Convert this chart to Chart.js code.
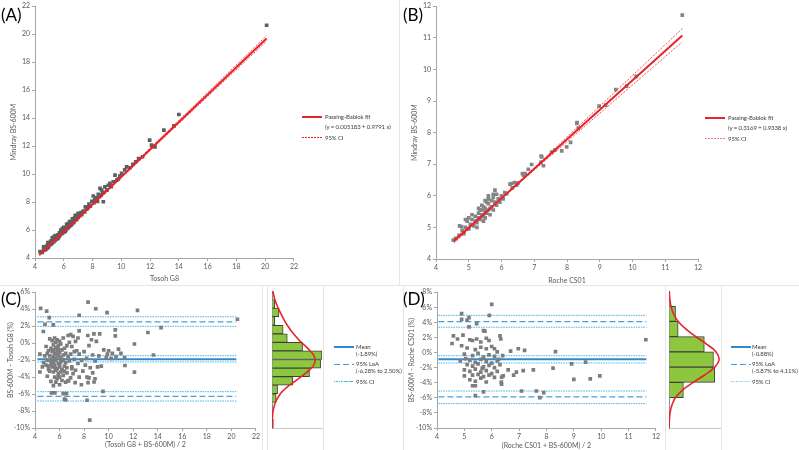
<!DOCTYPE html>
<html>
<head>
<meta charset="utf-8">
<script src="https://cdn.jsdelivr.net/npm/chart.js@4"></script>
<style>
  body { margin: 0; background: #fff; width: 799px; height: 450px; position: relative; overflow: hidden; font-family: Lato, sans-serif; }
  canvas, .t, .ln, .fr, .lbl { position: absolute; }
  .t { font-size: 6px; letter-spacing: -0.1px; color: #404040; white-space: nowrap; line-height: 8px; }
  .lbl { font-size: 17px; color: #000; line-height: 17px; }
  .fr { background: #e6e6e6; }
  .ln { width: 20px; }
  .red-solid { height: 2px; background: #e8232a; }
  .red-dash { height: 1px; background: repeating-linear-gradient(90deg, #e8232a 0 2px, transparent 2px 3px); }
  .blue-solid { height: 2px; background: #2f8ad0; }
  .blue-dash { height: 1.3px; background: repeating-linear-gradient(90deg, #4a9fd8 0 6px, transparent 6px 9px); }
  .blue-dot { height: 1px; background: repeating-linear-gradient(90deg, #48b2e0 0 1.5px, transparent 1.5px 2.5px); }
</style>
</head>
<body>

<div class="fr" style="left:0;top:285px;width:799px;height:1px"></div>
<div class="fr" style="left:399px;top:0;width:1px;height:285px"></div>
<div class="fr" style="left:262px;top:286px;width:1px;height:164px"></div>
<div class="fr" style="left:267px;top:286px;width:1px;height:164px"></div>
<div class="fr" style="left:323px;top:286px;width:1px;height:164px"></div>
<div class="fr" style="left:403px;top:286px;width:1px;height:164px"></div>
<div class="fr" style="left:665px;top:286px;width:1px;height:164px"></div>
<div class="fr" style="left:721px;top:286px;width:1px;height:164px"></div>

<canvas id="chartA" width="300" height="285" style="left:0;top:0"></canvas>
<canvas id="chartB" width="305" height="285" style="left:400px;top:0"></canvas>
<canvas id="chartC" width="262" height="164" style="left:0;top:286px"></canvas>
<canvas id="histC" width="66" height="164" style="left:262px;top:286px"></canvas>
<canvas id="chartD" width="262" height="164" style="left:400px;top:286px"></canvas>
<canvas id="histD" width="68" height="164" style="left:659px;top:286px"></canvas>

<div class="lbl" style="left:1px;top:6px">(A)</div>
<div class="lbl" style="left:403px;top:6px">(B)</div>
<div class="lbl" style="left:1px;top:290px">(C)</div>
<div class="lbl" style="left:403px;top:290px">(D)</div>

<!-- legend A -->
<div class="ln red-solid" style="left:302px;top:116px"></div>
<div class="t" style="left:325px;top:113px">Passing-Bablok fit</div>
<div class="t" style="left:325px;top:123px">(y = 0.005183 + 0.9791 x)</div>
<div class="ln red-dash" style="left:302px;top:137px"></div>
<div class="t" style="left:325px;top:134px">95% CI</div>

<!-- legend B -->
<div class="ln red-solid" style="left:705px;top:117px"></div>
<div class="t" style="left:728px;top:114px">Passing-Bablok fit</div>
<div class="t" style="left:728px;top:124px">(y = 0.3169 + 0.9338 x)</div>
<div class="ln red-dash" style="left:705px;top:138px;opacity:0.6"></div>
<div class="t" style="left:728px;top:135px">95% CI</div>

<!-- legend C -->
<div class="ln blue-solid" style="left:334px;top:346px"></div>
<div class="t" style="left:356px;top:343px">Mean</div>
<div class="t" style="left:356px;top:350px">(-1.89%)</div>
<div class="ln blue-dash" style="left:334px;top:364px"></div>
<div class="t" style="left:356px;top:360px">95% LoA</div>
<div class="t" style="left:356px;top:367px">(-6.28% to 2.50%)</div>
<div class="ln blue-dot" style="left:334px;top:381px"></div>
<div class="t" style="left:356px;top:378px">95% CI</div>

<!-- legend D -->
<div class="ln blue-solid" style="left:731px;top:346px"></div>
<div class="t" style="left:752px;top:343px">Mean</div>
<div class="t" style="left:752px;top:350px">(-0.88%)</div>
<div class="ln blue-dash" style="left:731px;top:364px"></div>
<div class="t" style="left:752px;top:360px">95% LoA</div>
<div class="t" style="left:752px;top:367px">(-5.87% to 4.11%)</div>
<div class="ln blue-dot" style="left:731px;top:381px;opacity:0.6"></div>
<div class="t" style="left:752px;top:378px">95% CI</div>

<script>
// ---- data ----
const aTicks = [4, 6, 8, 10, 12, 14, 16, 18, 20, 22];
const bTicks = [4, 5, 6, 7, 8, 9, 10, 11, 12];
const cYTicks = [-10, -8, -6, -4, -2, 0, 2, 4, 6];
const dYTicks = [-10, -8, -6, -4, -2, 0, 2, 4, 6, 8];

// Tosoh G8 vs Mindray BS-600M
const aPoints = [
  [4.35,4.45],[4.5,4.4],[4.6,4.55],[4.6,4.8],[4.7,4.75],[4.75,4.6],[4.8,4.85],[4.85,4.7],[4.9,4.95],[4.9,5.1],[4.95,4.8],
  [5.0,5.1],[5.05,4.95],[5.1,5.2],[5.15,5.0],[5.2,5.1],[5.2,5.45],[5.25,5.3],[5.3,5.15],[5.3,5.5],[5.35,5.4],[5.4,5.25],
  [5.4,5.6],[5.45,5.5],[5.5,5.35],[5.5,5.55],[5.55,5.45],[5.6,5.65],[5.6,5.4],[5.65,5.5],[5.7,5.6],[5.7,5.8],[5.75,5.65],
  [5.8,5.75],[5.8,6.0],[5.85,5.9],[5.9,5.75],[5.9,6.1],[5.95,5.95],[6.0,5.85],[6.0,6.05],[6.0,6.2],[6.05,5.95],[6.1,6.15],
  [6.1,5.9],[6.15,6.0],[6.2,6.1],[6.2,6.4],[6.25,6.3],[6.3,6.15],[6.3,6.45],[6.35,6.35],[6.4,6.25],[6.4,6.6],[6.45,6.5],
  [6.5,6.35],[6.55,6.6],[6.6,6.45],[6.6,6.8],[6.65,6.75],[6.7,6.55],[6.75,6.85],[6.8,6.7],[6.8,7.05],[6.85,6.95],[6.9,6.75],
  [6.95,7.0],[7.0,6.9],[7.0,7.2],[7.05,7.15],[7.1,7.0],[7.2,7.25],[7.25,7.1],[7.35,7.35],[7.45,7.3],[7.5,7.65],[7.6,7.5],
  [7.7,7.6],[7.75,7.85],[7.85,7.7],[7.95,8.05],[8.05,8.43],[8.1,7.95],[8.15,8.15],[8.25,8.3],[8.35,8.05],[8.4,8.55],
  [8.5,8.4],[8.52,8.98],[8.6,8.5],[8.63,8.86],[8.7,8.65],[8.75,8.02],[8.8,8.7],[8.86,9.09],[9.0,8.85],[9.1,9.2],[9.21,9.33],
  [9.3,9.1],[9.44,9.45],[9.56,9.93],[9.68,9.57],[9.8,9.65],[9.9,9.85],[10.02,10.05],[10.24,10.3],[10.37,10.52],[10.6,10.45],
  [10.8,10.7],[11.0,10.88],[11.2,11.1],[11.48,11.24],[11.97,12.43],[12.1,12.07],[12.34,11.95],[12.96,13.14],[13.66,13.45],
  [14.0,14.26],[20.1,20.64]
];
const aLineX = [4.3, 20.1];
const aFitY = [4.22, 19.69];
const aCiLowY = [4.24, 19.5];
const aCiHighY = [4.2, 19.9];

// Roche CS01 vs Mindray BS-600M
const bPoints = [
  [4.53,4.6],[4.6,4.65],[4.7,4.75],[4.72,5.05],[4.78,5.02],[4.8,4.9],[4.85,4.8],[4.9,5.0],[4.9,5.25],[4.95,5.2],[5.0,4.95],
  [5.0,5.3],[5.05,5.1],[5.1,5.25],[5.1,5.4],[5.15,5.05],[5.2,5.2],[5.2,5.35],[5.25,5.15],[5.25,5.0],[5.3,5.3],[5.3,5.45],
  [5.3,5.6],[5.35,5.25],[5.35,5.55],[5.4,5.4],[5.4,5.55],[5.4,5.7],[5.45,5.35],[5.45,5.2],[5.45,5.65],[5.5,5.5],[5.5,5.6],
  [5.5,5.3],[5.5,5.85],[5.55,5.45],[5.55,5.8],[5.6,5.55],[5.6,5.75],[5.6,6.0],[5.6,5.9],[5.65,5.6],[5.65,5.4],[5.7,5.65],
  [5.7,5.85],[5.75,5.55],[5.75,5.95],[5.75,6.05],[5.8,5.8],[5.8,6.18],[5.85,5.7],[5.85,6.05],[5.9,5.9],[5.95,5.8],[6.0,6.0],
  [6.05,5.9],[6.1,6.1],[6.16,6.07],[6.26,6.37],[6.31,6.39],[6.33,6.25],[6.4,6.42],[6.46,6.34],[6.5,6.4],[6.64,6.7],
  [6.67,6.65],[6.72,6.7],[6.82,6.84],[6.92,6.99],[7.2,7.06],[7.21,7.26],[7.23,7.23],[7.28,6.95],[7.53,7.38],[7.63,7.45],
  [7.84,7.42],[7.99,7.55],[8.11,7.69],[8.3,8.29],[8.31,8.32],[8.35,8.14],[8.98,8.84],[9.18,8.87],[9.49,9.36],[9.82,9.47],
  [10.11,9.78],[11.52,11.72]
];
const bLineX = [4.55, 11.52];
const bFitY = [4.57, 11.07];
const bCiLowY = [4.62, 10.87];
const bCiHighY = [4.5, 11.29];

// Bland-Altman, Tosoh G8: mean of methods vs % difference
const cPoints = [
  [4.46,4.09],[4.95,3.78],[5.16,3.0],[4.81,2.22],[5.49,2.16],[4.68,1.37],[4.4,-1.3],[4.4,-3.4],[4.6,-2.8],[4.8,-1.5],
  [4.9,-0.4],[5.0,-1.2],[4.7,-2.3],[4.9,-2.6],[5.1,-3.1],[5.0,-3.9],[5.3,-4.5],[5.2,0.5],[5.4,0.3],[5.6,0.6],[5.8,0.4],
  [5.5,-0.2],[5.7,-0.5],[5.9,-0.3],[6.1,-0.1],[5.3,-0.6],[5.1,-0.9],[5.4,-1.0],[5.6,-1.2],[5.8,-0.9],[6.0,-1.1],[6.2,-0.8],
  [6.4,-0.6],[5.2,-1.5],[5.5,-1.6],[5.7,-1.8],[5.9,-1.5],[6.1,-1.7],[6.3,-1.4],[6.5,-1.2],[6.7,-1.6],[5.0,-2.0],[5.3,-2.1],
  [5.5,-2.3],[5.7,-2.0],[5.9,-2.4],[6.1,-2.2],[6.3,-2.0],[6.5,-2.3],[6.8,-2.1],[5.1,-2.7],[5.4,-2.8],[5.6,-2.6],[5.8,-3.0],
  [6.0,-2.8],[6.2,-3.1],[6.4,-2.7],[6.6,-2.9],[5.2,-3.3],[5.5,-3.4],[5.7,-3.2],[5.9,-3.6],[6.1,-3.4],[6.3,-3.8],[6.6,-3.5],
  [5.6,-4.0],[5.8,-4.2],[6.0,-4.0],[6.2,-4.4],[6.5,-4.6],[5.7,-4.6],[5.5,-5.0],[6.0,-4.9],[5.9,-0.7],[6.6,-0.3],[6.8,0.1],
  [7.0,-0.4],[6.9,1.0],[7.1,0.8],[7.3,0.2],[6.7,0.9],[7.4,-0.9],[7.6,-1.3],[7.2,-1.9],[7.5,-2.4],[7.8,-2.0],[7.0,-2.8],
  [7.3,-3.2],[7.1,-3.6],[6.9,-4.1],[6.7,-4.4],[7.6,-4.0],[7.9,-3.3],[8.1,-2.6],[8.2,-1.8],[8.0,-1.0],[8.4,-0.3],[8.6,0.4],
  [8.8,1.1],[9.0,0.2],[8.3,0.9],[8.5,-2.9],[8.7,-3.5],[8.4,-4.1],[8.9,-2.1],[9.2,-1.5],[9.1,-2.8],[9.4,-2.7],[9.6,-0.8],
  [9.8,-1.7],[10.0,-0.9],[10.2,-1.8],[10.6,-1.6],[10.8,-0.7],[11.0,-1.2],[11.3,-1.7],[11.33,-2.64],[12.1,-3.42],[12.1,-0.1],
  [13.2,1.25],[13.65,-1.4],[14.27,1.83],[10.54,1.56],[10.54,0.86],[9.27,1.1],[7.6,1.45],[7.6,3.28],[8.32,4.83],[8.95,4.05],
  [9.87,3.59],[12.35,3.86],[20.49,2.81],[9.54,-5.68],[8.24,-6.73],[8.46,-9.07],[6.57,-5.95],[6.4,-6.6],[6.5,-6.7],
  [6.3,-5.95],[5.35,-5.86],[5.62,-5.86],[7.78,-4.9],[8.32,-4.66],[8.81,-4.58],[8.24,-4.0],[8.89,-4.2],[7.27,-4.66],
  [6.73,-4.46],[5.4,-1.9],[5.6,-2.9],[5.8,-1.3],[6.0,-2.5],[6.2,-1.9],[5.3,-2.5],[5.5,-0.8],[5.9,-3.9],[6.4,-3.3],[6.0,0.2],
  [5.7,0.1],[6.3,0.6],[7.2,-1.0],[7.5,0.6],[6.9,-1.3],[7.0,-3.0],[8.7,-1.4],[9.9,-1.3],[10.3,-1.2]
];
const cLineX = [4.2, 20.4];
const cMeanDiff = -1.89;
const cMeanCi = [-1.48, -2.22];
const cLoa = [2.50, -6.28];
const cLoaCi = [3.1, 1.98, -5.72, -6.82];
const cHistBins = [4.5, 3.5, 2.5, 1.5, 0.5, -0.5, -1.5, -2.5, -3.5, -4.5, -5.5, -6.5, -9.5];
const cHistCounts = [2, 5, 2, 8, 11, 22, 36, 35, 27, 15, 4, 3, 1];
const cCurvePct = [6, 5, 4, 3, 2, 1, 0, -0.5, -1, -1.5, -2, -2.5, -3, -3.5, -4, -4.5, -5, -5.5, -6, -7, -8, -9, -10];
const cCurveCount = [0.6, 2, 4.5, 7.5, 11, 15.5, 21, 24.5, 27.5, 30, 31, 30.5, 28.5, 25, 21, 17, 12.5, 9, 6, 2.5, 0.8, 0.25, 0.08];

// Bland-Altman, Roche CS01
const dPoints = [
  [6.0,6.38],[4.9,5.15],[5.91,4.93],[5.17,4.63],[4.9,4.4],[5.1,4.3],[5.45,3.84],[5.17,3.4],[5.7,2.9],[5.75,2.85],[4.6,2.22],
  [4.95,2.3],[6.3,2.2],[6.33,1.8],[4.55,1.2],[4.9,0.9],[5.2,1.7],[5.3,1.6],[5.45,1.8],[5.6,1.4],[5.8,1.9],[5.9,1.6],
  [5.1,0.6],[5.4,0.4],[5.6,0.7],[5.8,0.5],[6.0,0.8],[6.2,0.1],[5.0,-0.2],[5.3,-0.4],[5.5,-0.1],[5.7,-0.6],[5.9,-0.3],
  [6.1,-0.5],[6.4,-0.4],[5.2,-1.0],[5.4,-1.3],[5.6,-0.9],[5.8,-1.2],[6.0,-1.4],[6.2,-1.1],[5.1,-1.6],[5.3,-1.8],[5.5,-1.5],
  [5.7,-1.9],[5.9,-1.7],[6.1,-2.0],[6.3,-1.6],[5.0,-2.3],[5.2,-2.5],[5.4,-2.2],[5.6,-2.6],[5.8,-2.4],[6.0,-2.8],[6.2,-2.5],
  [5.3,-3.0],[5.5,-2.9],[5.7,-3.2],[5.9,-3.0],[6.1,-3.3],[5.0,-3.1],[5.2,-3.6],[5.4,-3.8],[5.6,-3.4],[5.8,-3.9],
  [6.36,-3.26],[6.35,-3.9],[6.36,-4.2],[5.3,-4.4],[5.4,-4.4],[5.7,-5.2],[5.4,-5.7],[6.69,0.2],[6.97,0.5],[7.2,0.3],
  [8.33,0.12],[11.63,1.7],[9.43,-1.28],[8.92,-1.5],[8.24,-2.07],[7.52,-2.3],[7.15,-2.4],[6.9,-2.6],[6.8,-3.0],[6.42,-3.1],
  [9.0,-3.56],[9.95,-3.1],[9.6,-3.5],[7.09,-5.1],[7.63,-5.1],[7.9,-5.3],[7.76,-5.97],[6.1,0.5],[6.6,-2.3],[5.05,-0.8],
  [5.65,-2.1],[6.25,-0.9],[4.85,-1.1],[4.75,1.8]
];
const dLineX = [4.05, 11.65];
const dMeanDiff = -0.88;
const dMeanCi = [-0.42, -1.38];
const dLoa = [4.11, -5.87];
const dLoaCi = [4.93, 3.36, -5.1, -6.76];
const dHistBins = [5, 3, 1, -1, -3, -5];
const dHistCounts = [5, 7, 27, 34, 35, 11];
const dCurvePct = [8, 7, 6, 5, 4, 3, 2, 1, 0, -1, -2, -3, -4, -5, -6, -7, -8, -9, -10];
const dCurveCount = [0.2, 0.6, 1.5, 3.5, 7, 13, 20.5, 29, 36, 38.3, 35, 27.5, 18.5, 10.5, 5, 2.2, 0.8, 0.3, 0.1];

// ---- styling ----
Chart.defaults.font.family = 'Lato, sans-serif';
Chart.defaults.font.size = 7;
Chart.defaults.color = '#595959';
Chart.defaults.animation = false;
Chart.defaults.events = [];
Chart.defaults.plugins.legend.display = false;
Chart.defaults.plugins.tooltip.enabled = false;

const axisColor = '#a6a6a6';
const red = '#e8232a';

function scaleOpts(ticks, title, fixSize, titlePad, isY, pct) {
  return {
    type: 'linear',
    min: ticks[0],
    max: ticks[ticks.length - 1],
    afterBuildTicks: s => { s.ticks = ticks.map(v => ({ value: v })); },
    afterFit: s => { if (isY) s.width = fixSize; else s.height = fixSize; },
    grid: { drawOnChartArea: false, drawTicks: true, tickLength: 3, color: axisColor },
    border: { color: axisColor },
    ticks: { padding: 2, callback: v => pct ? v + '%' : v },
    title: {
      display: true, text: title, color: '#595959', font: { size: 7 },
      padding: isY ? { top: titlePad, bottom: 0 } : { top: 0, bottom: titlePad }
    }
  };
}

function hline(xs, y, color, width, dash) {
  return {
    type: 'line',
    data: [{ x: xs[0], y: y }, { x: xs[1], y: y }],
    borderColor: color, borderWidth: width, borderDash: dash,
    pointRadius: 0, fill: false
  };
}

function seg(xs, ys, color, width, dash) {
  return {
    type: 'line',
    data: [{ x: xs[0], y: ys[0] }, { x: xs[1], y: ys[1] }],
    borderColor: color, borderWidth: width, borderDash: dash,
    pointRadius: 0, fill: false
  };
}

function dots(points, color) {
  return {
    type: 'scatter',
    data: points.map(p => ({ x: p[0], y: p[1] })),
    pointStyle: 'rect', pointRadius: 2.6, borderWidth: 0,
    backgroundColor: color
  };
}

// Passing-Bablok (A)
new Chart(document.getElementById('chartA'), {
  type: 'scatter',
  data: {
    datasets: [
      seg(aLineX, aFitY, red, 2, []),
      seg(aLineX, aCiLowY, red, 0.8, [2, 1.5]),
      seg(aLineX, aCiHighY, red, 0.8, [2, 1.5]),
      dots(aPoints, '#5e5e5e')
    ]
  },
  options: {
    responsive: false,
    layout: { padding: { top: 6, right: 6, left: 0, bottom: 0 } },
    scales: {
      x: scaleOpts(aTicks, 'Tosoh G8', 27, 2, false, false),
      y: scaleOpts(aTicks, 'Mindray BS-600M', 35, 10, true, false)
    }
  }
});

// Passing-Bablok (B)
new Chart(document.getElementById('chartB'), {
  type: 'scatter',
  data: {
    datasets: [
      seg(bLineX, bFitY, red, 2, []),
      seg(bLineX, bCiLowY, red, 0.8, [2, 1.5]),
      seg(bLineX, bCiHighY, red, 0.8, [2, 1.5]),
      dots(bPoints, '#858585')
    ]
  },
  options: {
    responsive: false,
    layout: { padding: { top: 6, right: 7, left: 0, bottom: 0 } },
    scales: {
      x: scaleOpts(bTicks, 'Roche CS01', 26, 0, false, false),
      y: scaleOpts(bTicks, 'Mindray BS-600M', 36, 11, true, false)
    }
  }
});

// Bland-Altman (C)
const blue = '#2f8ad0', blueDash = '#4a9fd8', blueDot = '#48b2e0';
new Chart(document.getElementById('chartC'), {
  type: 'scatter',
  data: {
    datasets: [
      dots(cPoints, '#7d7d7d'),
      hline(cLineX, cMeanDiff, blue, 2, []),
      hline(cLineX, cMeanCi[0], blueDot, 1, [1.5, 1]),
      hline(cLineX, cMeanCi[1], blueDot, 1, [1.5, 1]),
      hline(cLineX, cLoa[0], blueDash, 1.3, [6, 3]),
      hline(cLineX, cLoa[1], blueDash, 1.3, [6, 3]),
      ...cLoaCi.map(v => hline(cLineX, v, blueDot, 1, [1.5, 1]))
    ]
  },
  options: {
    responsive: false,
    layout: { padding: { top: 5, right: 5, left: 0, bottom: 0 } },
    scales: {
      x: scaleOpts(aTicks, '(Tosoh G8 + BS-600M) / 2', 22, 1, false, false),
      y: scaleOpts(cYTicks, 'BS-600M - Tosoh G8 (%)', 35, 7, true, true)
    }
  }
});

// Bland-Altman (D)
new Chart(document.getElementById('chartD'), {
  type: 'scatter',
  data: {
    datasets: [
      dots(dPoints, '#7d7d7d'),
      hline(dLineX, dMeanDiff, blue, 2, []),
      hline(dLineX, dMeanCi[0], blueDot, 1, [1.5, 1]),
      hline(dLineX, dMeanCi[1], blueDot, 1, [1.5, 1]),
      hline(dLineX, dLoa[0], blueDash, 1.3, [6, 3]),
      hline(dLineX, dLoa[1], blueDash, 1.3, [6, 3]),
      ...dLoaCi.map(v => hline(dLineX, v, blueDot, 1, [1.5, 1]))
    ]
  },
  options: {
    responsive: false,
    layout: { padding: { top: 5, right: 6, left: 0, bottom: 0 } },
    scales: {
      x: scaleOpts(bTicks, '(Roche CS01 + BS-600M) / 2', 22, 0, false, false),
      y: scaleOpts(dYTicks, 'BS-600M - Roche CS01 (%)', 37, 8, true, true)
    }
  }
});

// Histograms of the differences, with normal curve
function histChart(id, bins, counts, curvePct, curveCount, yMin, yMax, xMax, rightPad) {
  new Chart(document.getElementById(id), {
    type: 'bar',
    data: {
      datasets: [
        {
          type: 'line',
          data: curvePct.map((p, i) => ({ x: curveCount[i], y: p })),
          borderColor: red, borderWidth: 1.6, pointRadius: 0, tension: 0.4, fill: false
        },
        {
          type: 'bar',
          data: bins.map((b, i) => ({ x: counts[i], y: b })),
          backgroundColor: '#8dc63f', borderColor: '#3f3f3f', borderWidth: 1,
          barPercentage: 1, categoryPercentage: 1
        }
      ]
    },
    options: {
      responsive: false,
      indexAxis: 'y',
      layout: { padding: { top: 5, right: rightPad, left: 0, bottom: 0 } },
      scales: {
        x: {
          type: 'linear', min: 0, max: xMax,
          afterFit: s => { s.height = 22; },
          ticks: { display: false },
          grid: { drawOnChartArea: false, drawTicks: false },
          border: { color: '#c8c8c8' }
        },
        y: {
          type: 'linear', min: yMin, max: yMax, offset: false,
          afterFit: s => { s.width = 10; },
          ticks: { display: false },
          grid: { drawOnChartArea: false, drawTicks: false },
          border: { color: '#8c8c8c' }
        }
      }
    }
  });
}

histChart('histC', cHistBins, cHistCounts, cCurvePct, cCurveCount, -10, 6, 36, 6);
histChart('histD', dHistBins, dHistCounts, dCurvePct, dCurveCount, -10, 8, 39, 7);
</script>
</body>
</html>
